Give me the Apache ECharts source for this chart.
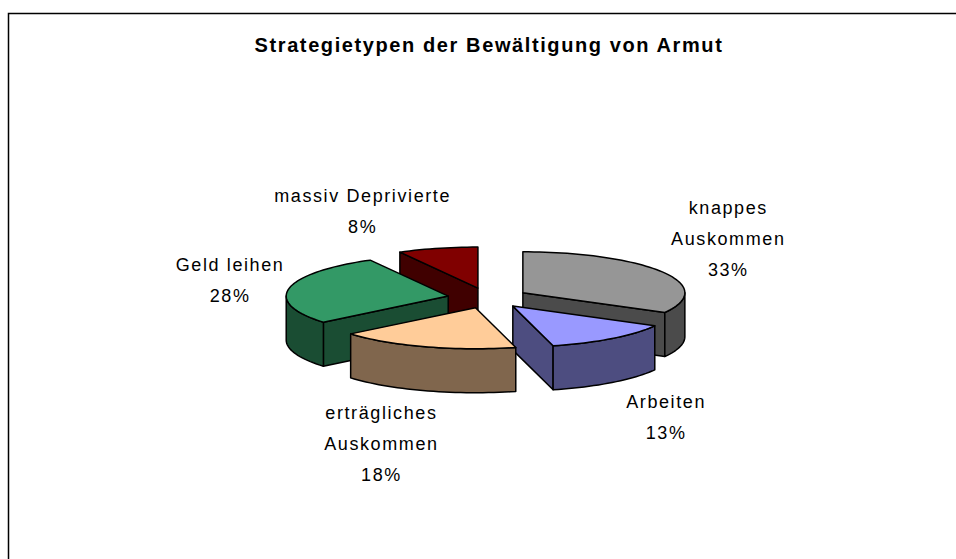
<!DOCTYPE html>
<html>
<head>
  <meta charset="utf-8">
  <title>Strategietypen der Bewältigung von Armut</title>
  <script src="https://cdn.jsdelivr.net/npm/echarts@6/dist/echarts.min.js"></script>
  <style>
    html, body { margin: 0; padding: 0; background: #fff; }
    /* svg renderer: the text inherits this, like the wide Excel text */
    #main { width: 956px; height: 559px; letter-spacing: 1.6px; }
  </style>
</head>
<body>
<div id="main"></div>
<script type="text/javascript">
  // data
  var titleText = 'Strategietypen der Bewältigung von Armut';
  var categories = ['knappes\nAuskommen', 'Arbeiten', 'erträgliches\nAuskommen', 'Geld leihen', 'massiv Deprivierte'];
  var values = [33, 13, 18, 28, 8];
  var topColors = ['#969696', '#9999FF', '#FFCC99', '#339966', '#800000'];

  // 3d pie look (Excel style): ellipse, depth and explosion
  var CX = 488, CY = 298, RX = 162, RY = 41, DEPTH = 44, EXPLODE = 0.25;
  // where Excel put each label, relative to the slice rim
  var labelShift = [[66, -33], [54, 35], [-44, 53], [-59, -8], [-75, -37]];
  var FONT = "'Liberation Sans', Arial, sans-serif";

  var total = values.reduce(function (s, v) { return s + v; }, 0);
  var starts = [];
  var acc = 0;
  values.forEach(function (v) { starts.push(acc / total * 360); acc += v; });

  function darken(hex) {
    var n = parseInt(hex.slice(1), 16);
    var r = Math.round((n >> 16) / 2), g = Math.round(((n >> 8) & 255) / 2), b = Math.round((n & 255) / 2);
    return 'rgb(' + r + ',' + g + ',' + b + ')';
  }
  function rad(a) { return a * Math.PI / 180; }

  function renderItem(params, api) {
    var i = params.dataIndex;
    var v = api.value(0);
    var a0 = starts[i], a1 = a0 + v / total * 360, mid = (a0 + a1) / 2;
    var px = CX + EXPLODE * RX * Math.sin(rad(mid));
    var py = CY - EXPLODE * RY * Math.cos(rad(mid));

    function pt(a, dz) {
      return [px + RX * Math.sin(rad(a)), py - RY * Math.cos(rad(a)) + dz];
    }
    function arc(from, to, dz) {
      var n = Math.max(2, Math.ceil(Math.abs(to - from) / 2));
      var out = [];
      for (var k = 0; k <= n; k++) out.push(pt(from + (to - from) * k / n, dz));
      return out;
    }

    var base = Math.round((1 - Math.cos(rad(mid))) * 100) * 10;
    var side = darken(topColors[i]);
    var line = { stroke: '#000', lineWidth: 1.5, lineJoin: 'round' };
    var children = [];

    function face(a) {
      var t = pt(a, 0), b = pt(a, DEPTH);
      return {
        type: 'polygon', z2: base + 1,
        shape: { points: [[px, py], t, b, [px, py + DEPTH]] },
        style: Object.assign({ fill: side }, line)
      };
    }
    // radial sides that face the viewer
    if (Math.sin(rad(a0)) < -1e-6) children.push(face(a0));
    if (Math.sin(rad(a1)) > 1e-6) children.push(face(a1));
    // front part of the outer wall
    var w0 = Math.max(a0, 90), w1 = Math.min(a1, 270);
    if (w1 > w0) {
      children.push({
        type: 'polygon', z2: base + 2,
        shape: { points: arc(w0, w1, 0).concat(arc(w1, w0, DEPTH)) },
        style: Object.assign({ fill: side }, line)
      });
    }
    // top face
    children.push({
      type: 'polygon', z2: base + 3,
      shape: { points: [[px, py]].concat(arc(a0, a1, 0)) },
      style: Object.assign({ fill: topColors[i] }, line)
    });
    // label
    var lower = -Math.cos(rad(mid)) > 0;
    var anchor = pt(mid, lower ? DEPTH : 0);
    children.push({
      type: 'text', z2: 5000,
      x: anchor[0] + labelShift[i][0],
      y: anchor[1] + labelShift[i][1],
      style: {
        text: categories[i] + '\n' + Math.round(v / total * 100) + '%',
        align: 'center', verticalAlign: 'middle',
        fontFamily: FONT, fontSize: 18, lineHeight: 31, fill: '#000'
      }
    });
    return { type: 'group', children: children };
  }

  var myChart = echarts.init(document.getElementById('main'), null, { renderer: 'svg' });

  var option = {
    backgroundColor: '#fff',
    animation: false,
    title: {
      text: titleText,
      left: 489, top: 35, padding: 0,
      textAlign: 'center',
      textStyle: { fontFamily: FONT, fontSize: 20, fontWeight: 'bold', color: '#000' }
    },
    graphic: [
      {
        type: 'rect', silent: true,
        shape: { x: 8.5, y: 13.5, width: 960, height: 560 },
        style: { fill: 'none', stroke: '#000', lineWidth: 1.5 }
      }
    ],
    series: [
      {
        type: 'custom',
        coordinateSystem: 'none',
        silent: true,
        renderItem: renderItem,
        data: values.map(function (v) { return [v]; })
      }
    ]
  };

  myChart.setOption(option);
</script>
</body>
</html>
